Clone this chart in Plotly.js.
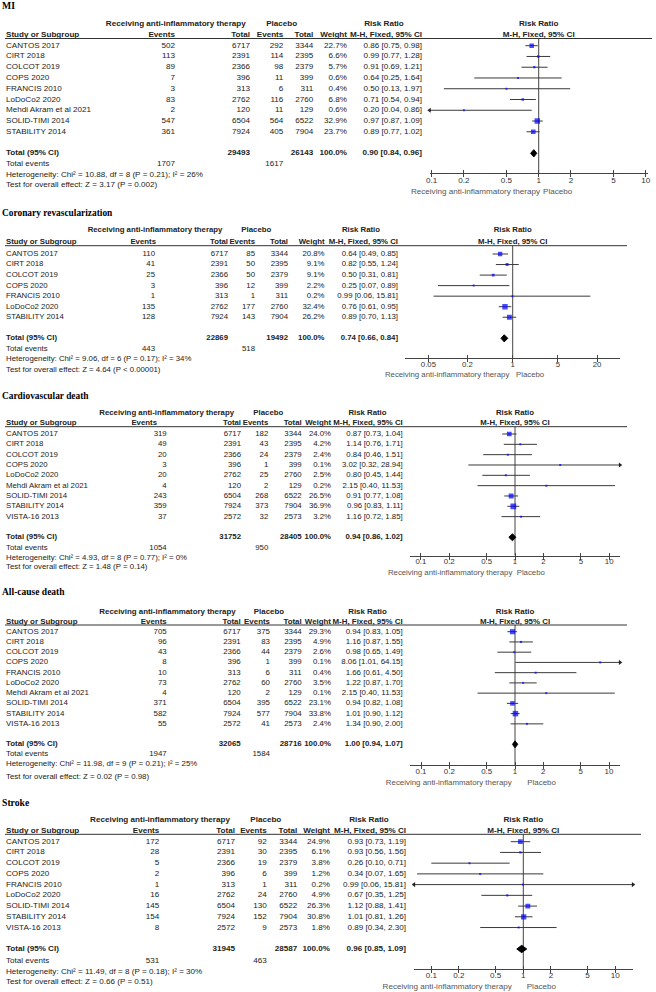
<!DOCTYPE html>
<html><head><meta charset="utf-8">
<script src="https://cdn.plot.ly/plotly-3.0.1.min.js"></script>
<style>html,body{margin:0;padding:0;background:#fff}</style>
</head><body><div id="chart" style="width:656px;height:992px"></div>
<script>
// ================= DATA =================
const panelTitles = ["MI", "Coronary revascularization", "Cardiovascular death", "All-cause death", "Stroke"];

// MI
const miStudies = ["CANTOS 2017","CIRT 2018","COLCOT 2019","COPS 2020","FRANCIS 2010","LoDoCo2 2020","Mehdi Akram et al 2021","SOLID-TIMI 2014","STABILITY 2014"];
const miEventsTx = [502,113,89,7,3,83,2,547,361];
const miTotalTx  = [6717,2391,2366,396,313,2762,120,6504,7924];
const miEventsPl = [292,114,98,11,6,116,11,564,405];
const miTotalPl  = [3344,2395,2379,399,311,2760,129,6522,7904];
const miWeight   = [22.7,6.6,5.7,0.6,0.4,6.8,0.6,32.9,23.7];
const miRR       = [0.86,0.99,0.91,0.64,0.50,0.71,0.20,0.97,0.89];
const miLower    = [0.75,0.77,0.69,0.25,0.13,0.54,0.04,0.87,0.77];
const miUpper    = [0.98,1.28,1.21,1.64,1.97,0.94,0.86,1.09,1.02];
const miTotals   = [29493, 26143];
const miTotalEvents = [1707, 1617];
const miPooled   = [0.90, 0.84, 0.96];
const miHet      = [10.88, 8, "0.21", 26];
const miTest     = [3.17, "= 0.002"];
const miTicks    = [0.1, 0.2, 0.5, 1, 2, 5, 10];

// Coronary revascularization
const crStudies = ["CANTOS 2017","CIRT 2018","COLCOT 2019","COPS 2020","FRANCIS 2010","LoDoCo2 2020","STABILITY 2014"];
const crEventsTx = [110,41,25,3,1,135,128];
const crTotalTx  = [6717,2391,2366,396,313,2762,7924];
const crEventsPl = [85,50,50,12,1,177,143];
const crTotalPl  = [3344,2395,2379,399,311,2760,7904];
const crWeight   = [20.8,9.1,9.1,2.2,0.2,32.4,26.2];
const crRR       = [0.64,0.82,0.50,0.25,0.99,0.76,0.89];
const crLower    = [0.49,0.55,0.31,0.07,0.06,0.61,0.70];
const crUpper    = [0.85,1.24,0.81,0.89,15.81,0.95,1.13];
const crTotals   = [22869, 19492];
const crTotalEvents = [443, 518];
const crPooled   = [0.74, 0.66, 0.84];
const crHet      = [9.06, 6, "0.17", 34];
const crTest     = [4.64, "< 0.00001"];
const crTicks    = [0.05, 0.2, 1, 5, 20];

// Cardiovascular death
const cvStudies = ["CANTOS 2017","CIRT 2018","COLCOT 2019","COPS 2020","LoDoCo2 2020","Mehdi Akram et al 2021","SOLID-TIMI 2014","STABILITY 2014","VISTA-16 2013"];
const cvEventsTx = [319,49,20,3,20,4,243,359,37];
const cvTotalTx  = [6717,2391,2366,396,2762,120,6504,7924,2572];
const cvEventsPl = [182,43,24,1,25,2,268,373,32];
const cvTotalPl  = [3344,2395,2379,399,2760,129,6522,7904,2573];
const cvWeight   = [24.0,4.2,2.4,0.1,2.5,0.2,26.5,36.9,3.2];
const cvRR       = [0.87,1.14,0.84,3.02,0.80,2.15,0.91,0.96,1.16];
const cvLower    = [0.73,0.76,0.46,0.32,0.45,0.40,0.77,0.83,0.72];
const cvUpper    = [1.04,1.71,1.51,28.94,1.44,11.53,1.08,1.11,1.85];
const cvTotals   = [31752, 28405];
const cvTotalEvents = [1054, 950];
const cvPooled   = [0.94, 0.86, 1.02];
const cvHet      = [4.93, 8, "0.77", 0];
const cvTest     = [1.48, "= 0.14"];
const cvTicks    = [0.1, 0.2, 0.5, 1, 2, 5, 10];

// All-cause death
const acStudies = ["CANTOS 2017","CIRT 2018","COLCOT 2019","COPS 2020","FRANCIS 2010","LoDoCo2 2020","Mehdi Akram et al 2021","SOLID-TIMI 2014","STABILITY 2014","VISTA-16 2013"];
const acEventsTx = [705,96,43,8,10,73,4,371,582,55];
const acTotalTx  = [6717,2391,2366,396,313,2762,120,6504,7924,2572];
const acEventsPl = [375,83,44,1,6,60,2,395,577,41];
const acTotalPl  = [3344,2395,2379,399,311,2760,129,6522,7904,2573];
const acWeight   = [29.3,4.9,2.6,0.1,0.4,3.5,0.1,23.1,33.8,2.4];
const acRR       = [0.94,1.16,0.98,8.06,1.66,1.22,2.15,0.94,1.01,1.34];
const acLower    = [0.83,0.87,0.65,1.01,0.61,0.87,0.40,0.82,0.90,0.90];
const acUpper    = [1.05,1.55,1.49,64.15,4.50,1.70,11.53,1.08,1.12,2.00];
const acTotals   = [32065, 28716];
const acTotalEvents = [1947, 1584];
const acPooled   = [1.00, 0.94, 1.07];
const acHet      = [11.98, 9, "0.21", 25];
const acTest     = [0.02, "= 0.98"];
const acTicks    = [0.1, 0.2, 0.5, 1, 2, 5, 10];

// Stroke
const stStudies = ["CANTOS 2017","CIRT 2018","COLCOT 2019","COPS 2020","FRANCIS 2010","LoDoCo2 2020","SOLID-TIMI 2014","STABILITY 2014","VISTA-16 2013"];
const stEventsTx = [172,28,5,2,1,16,145,154,8];
const stTotalTx  = [6717,2391,2366,396,313,2762,6504,7924,2572];
const stEventsPl = [92,30,19,6,1,24,130,152,9];
const stTotalPl  = [3344,2395,2379,399,311,2760,6522,7904,2573];
const stWeight   = [24.9,6.1,3.8,1.2,0.2,4.9,26.3,30.8,1.8];
const stRR       = [0.93,0.93,0.26,0.34,0.99,0.67,1.12,1.01,0.89];
const stLower    = [0.73,0.56,0.10,0.07,0.06,0.35,0.88,0.81,0.34];
const stUpper    = [1.19,1.56,0.71,1.65,15.81,1.25,1.41,1.26,2.30];
const stTotals   = [31945, 28587];
const stTotalEvents = [531, 463];
const stPooled   = [0.96, 0.85, 1.09];
const stHet      = [11.49, 8, "0.18", 30];
const stTest     = [0.66, "= 0.51"];
const stTicks    = [0.1, 0.2, 0.5, 1, 2, 5, 10];

// ================= ASSEMBLY =================
const panels = [
  {studies: miStudies, evT: miEventsTx, totT: miTotalTx, evC: miEventsPl, totC: miTotalPl, w: miWeight, rr: miRR, lo: miLower, hi: miUpper, totals: miTotals, events: miTotalEvents, pooled: miPooled, het: miHet, test: miTest, ticks: miTicks},
  {studies: crStudies, evT: crEventsTx, totT: crTotalTx, evC: crEventsPl, totC: crTotalPl, w: crWeight, rr: crRR, lo: crLower, hi: crUpper, totals: crTotals, events: crTotalEvents, pooled: crPooled, het: crHet, test: crTest, ticks: crTicks},
  {studies: cvStudies, evT: cvEventsTx, totT: cvTotalTx, evC: cvEventsPl, totC: cvTotalPl, w: cvWeight, rr: cvRR, lo: cvLower, hi: cvUpper, totals: cvTotals, events: cvTotalEvents, pooled: cvPooled, het: cvHet, test: cvTest, ticks: cvTicks},
  {studies: acStudies, evT: acEventsTx, totT: acTotalTx, evC: acEventsPl, totC: acTotalPl, w: acWeight, rr: acRR, lo: acLower, hi: acUpper, totals: acTotals, events: acTotalEvents, pooled: acPooled, het: acHet, test: acTest, ticks: acTicks},
  {studies: stStudies, evT: stEventsTx, totT: stTotalTx, evC: stEventsPl, totC: stTotalPl, w: stWeight, rr: stRR, lo: stLower, hi: stUpper, totals: stTotals, events: stTotalEvents, pooled: stPooled, het: stHet, test: stTest, ticks: stTicks}
];

// page geometry (pixels)
const geom = [
 {fs:8.1, titleY:6.5, h1Y:24, h2Y:34.5, lineY:38.5, lineX2:652, row0:45.7, rowH:10.76, evY:164.3, hetY:174.7, testY:185, axisY:173.3, labY:191.7, tso:-4,
  onePx:538.7, decPx:107, axL:429.6, axR:647.8, labLx:540, labRx:543,
  cEvT:175, cEvTh:175, cTotT:250, cEvC:283.3, cTotC:313.3, cW:347, cCI:422, g1:175.8, g2:281.7, rrC:384},
 {fs:7.8, titleY:213.3, h1Y:230, h2Y:241.7, lineY:245.7, lineX2:627, row0:254, rowH:10.54, evY:349.3, hetY:359.3, testY:370, axisY:358.3, labY:375, tso:-5,
  onePx:512.7, decPx:64.8, axL:405, axR:620, labLx:509.3, labRx:516,
  cEvT:155, cEvTh:156, cTotT:228, cEvC:255, cTotC:288, cW:324.5, cCI:398, g1:155, g2:256.3, rrC:361},
 {fs:7.8, titleY:396.7, h1Y:412.7, h2Y:423.3, lineY:426.7, lineX2:627, row0:434, rowH:10.33, evY:547.7, hetY:557.7, testY:567.5, axisY:555.7, labY:573.3, tso:-5,
  onePx:515, decPx:94.2, axL:410, axR:620, labLx:512.3, labRx:516.7,
  cEvT:166.7, cEvTh:157, cTotT:241, cEvC:268.3, cTotC:301.7, cW:331, cCI:402.7, g1:166.7, g2:268.3, rrC:367.5},
 {fs:7.9, titleY:592.3, h1Y:611.7, h2Y:621.7, lineY:625, lineX2:627, row0:631.7, rowH:10.24, evY:754.3, hetY:764.3, testY:776.7, axisY:765, labY:783.3, tso:-4,
  onePx:515, decPx:94, axL:410, axR:620, labLx:511.7, labRx:527.3,
  cEvT:166.7, cEvTh:166.7, cTotT:240.7, cEvC:270, cTotC:301.7, cW:331, cCI:402.7, g1:167.5, g2:269, rrC:367.5},
 {fs:8.1, titleY:803.3, h1Y:820, h2Y:830.7, lineY:834.3, lineX2:641, row0:841.7, rowH:10.73, evY:961, hetY:971.7, testY:982.3, axisY:969, labY:987.3, tso:-5,
  onePx:523.3, decPx:92, axL:414, axR:633, labLx:511.7, labRx:526.7,
  cEvT:159.3, cEvTh:159.3, cTotT:235, cEvC:266.7, cTotC:297.3, cW:330, cCI:406, g1:160, g2:265.8, rrC:369}
];

const W = 656, H = 992;
const SANS = "Liberation Sans, Arial, sans-serif";
const SERIF = "Liberation Serif, Times New Roman, serif";
const TXT = "#222";
const traces = [];
const shapes = [];
const layout = {
  width: W, height: H, margin: {l:0, r:0, t:0, b:0},
  paper_bgcolor: "#fff", plot_bgcolor: "rgba(0,0,0,0)", showlegend: false,
  xaxis11: {domain:[0,1], range:[0,W], visible:false, fixedrange:true, anchor:"y11"},
  yaxis11: {domain:[0,1], range:[H,0], visible:false, fixedrange:true, anchor:"x11"},
  shapes: shapes
};

function tt(xs, ys, texts, pos, size, opts) {
  opts = opts || {};
  traces.push({
    type: "scatter", mode: "text", x: xs, y: ys,
    text: texts.map(t => opts.bold ? "<b>" + t + "</b>" : String(t)),
    textposition: pos,
    textfont: {family: opts.family || SANS, size: size, color: opts.color || TXT},
    xaxis: "x11", yaxis: "y11", hoverinfo: "skip", cliponaxis: false, showlegend: false
  });
}
const rep = (v, n) => Array(n).fill(v);
const ci = (r, l, h) => r.toFixed(2) + " [" + l.toFixed(2) + ", " + h.toFixed(2) + "]";

panels.forEach((d, i) => {
  const g = geom[i];
  const n = d.studies.length;
  const fs = g.fs;
  const rowsY = d.studies.map((_, k) => g.row0 + k * g.rowH);
  const totY = g.row0 + (n + 1) * g.rowH;

  // title
  tt([2], [g.titleY], [panelTitles[i]], "middle right", fs + 1.6, {bold:true, family:SERIF, color:"#000"});
  // header row 1
  tt([g.g1, g.g2, g.rrC, g.onePx], rep(g.h1Y, 4),
     ["Receiving anti-inflammatory therapy", "Placebo", "Risk Ratio", "Risk Ratio"], "middle center", fs, {bold:true});
  // header row 2
  tt([6], [g.h2Y], ["Study or Subgroup"], "middle right", fs, {bold:true});
  tt([g.cEvTh, g.cTotT, g.cEvC, g.cTotC, g.cW, g.cCI], rep(g.h2Y, 6),
     ["Events", "Total", "Events", "Total", "Weight", "M-H, Fixed, 95% CI"], "middle left", fs, {bold:true});
  tt([g.onePx], [g.h2Y], ["M-H, Fixed, 95% CI"], "middle center", fs, {bold:true});
  shapes.push({type:"line", xref:"x11", yref:"y11", x0:5, x1:g.lineX2, y0:g.lineY, y1:g.lineY, line:{color:"#333", width:1}});

  // study rows
  tt(rep(6, n), rowsY, d.studies, "middle right", fs);
  tt(rep(g.cEvT, n), rowsY, d.evT, "middle left", fs);
  tt(rep(g.cTotT, n), rowsY, d.totT, "middle left", fs);
  tt(rep(g.cEvC, n), rowsY, d.evC, "middle left", fs);
  tt(rep(g.cTotC, n), rowsY, d.totC, "middle left", fs);
  tt(rep(g.cW, n), rowsY, d.w.map(v => v.toFixed(1) + "%"), "middle left", fs);
  tt(rep(g.cCI, n), rowsY, d.rr.map((r, k) => ci(r, d.lo[k], d.hi[k])), "middle left", fs);

  // total row
  tt([6], [totY], ["Total (95% CI)"], "middle right", fs, {bold:true});
  const wSum = d.w.reduce((a, b) => a + b, 0);
  tt([g.cTotT, g.cTotC, g.cW, g.cCI], rep(totY, 4),
     [d.totals[0], d.totals[1], (Math.round(wSum / 10) * 10).toFixed(1) + "%", ci(d.pooled[0], d.pooled[1], d.pooled[2])],
     "middle left", fs, {bold:true});
  tt([6], [g.evY], ["Total events"], "middle right", fs);
  tt([g.cEvT, g.cEvC], [g.evY, g.evY], [d.events[0], d.events[1]], "middle left", fs);
  const h = d.het;
  tt([6], [g.hetY], ["Heterogeneity: Chi² = " + h[0].toFixed(2) + ", df = " + h[1] + " (P = " + h[2] + "); I² = " + h[3] + "%"], "middle right", fs);
  tt([6], [g.testY], ["Test for overall effect: Z = " + d.test[0].toFixed(2) + " (P " + d.test[1] + ")"], "middle right", fs);

  // bottom favour labels
  tt([g.labLx], [g.labY], ["Receiving anti-inflammatory therapy"], "middle left", fs, {color:"#555"});
  tt([g.labRx], [g.labY], ["Placebo"], "middle right", fs, {color:"#555"});

  // ---- forest subplot ----
  const s = i === 0 ? "" : String(i + 1);
  const xa = "x" + s, ya = "y" + s;
  const xr = [(g.axL - g.onePx) / g.decPx, (g.axR - g.onePx) / g.decPx];
  const yTop = (g.lineY - g.row0) / g.rowH;
  const yBot = (g.axisY - g.row0) / g.rowH;
  const idx = d.studies.map((_, k) => k);
  const totIdx = n + 1;

  layout["xaxis" + s] = {
    domain: [g.axL / W, g.axR / W], anchor: ya, type: "log", range: xr,
    tickvals: d.ticks, ticktext: d.ticks.map(String), ticks: "outside", ticklen: 3, tickwidth: 1, tickcolor: "#444",
    ticklabelstandoff: g.tso,
    showline: true, linecolor: "#444", linewidth: 1, showgrid: false, zeroline: false,
    tickfont: {family: SANS, size: fs, color: "#333"}, fixedrange: true
  };
  layout["yaxis" + s] = {
    domain: [1 - g.axisY / H, 1 - g.lineY / H], anchor: xa, range: [yBot, yTop],
    visible: false, showgrid: false, zeroline: false, fixedrange: true
  };
  // inner half of tick marks
  const ov = "xaxis" + (6 + i);
  layout[ov] = {
    overlaying: xa, anchor: ya, type: "log", range: xr, tickvals: d.ticks, ticks: "inside", ticklen: 3,
    tickcolor: "#444", showticklabels: false, showline: false, showgrid: false, zeroline: false, fixedrange: true
  };
  traces.push({type:"scatter", mode:"markers", x:[1], y:[totIdx], marker:{opacity:0}, xaxis:"x" + (6 + i), yaxis:ya, hoverinfo:"skip", showlegend:false});

  // line of no effect
  traces.push({type:"scatter", mode:"lines", x:[1, 1], y:[yTop, yBot], line:{color:"#444", width:1},
               xaxis:xa, yaxis:ya, hoverinfo:"skip", showlegend:false, cliponaxis:false});
  // CI lines
  const cx = [], cy = [];
  idx.forEach(k => { cx.push(d.lo[k], d.hi[k], null); cy.push(k, k, null); });
  traces.push({type:"scatter", mode:"lines", x:cx, y:cy, line:{color:"#3a3a3a", width:1},
               xaxis:xa, yaxis:ya, hoverinfo:"skip", showlegend:false});
  // arrows for CIs beyond axis range
  const minV = Math.pow(10, xr[0]), maxV = Math.pow(10, xr[1]);
  const ax = [], ay = [], as = [];
  idx.forEach(k => {
    if (d.lo[k] < minV) { ax.push(minV); ay.push(k); as.push("triangle-left"); }
    if (d.hi[k] > maxV) { ax.push(maxV); ay.push(k); as.push("triangle-right"); }
  });
  if (ax.length) traces.push({type:"scatter", mode:"markers", x:ax, y:ay,
      marker:{symbol:as, size:4.5, color:"#222", line:{width:0}},
      xaxis:xa, yaxis:ya, hoverinfo:"skip", showlegend:false, cliponaxis:false});
  // study squares
  traces.push({type:"scatter", mode:"markers", x:d.rr, y:idx,
    marker:{symbol:"square", color:"#0000ff", size:d.w.map(v => Math.max(2, Math.sqrt(v) * 0.95)), line:{width:0}},
    xaxis:xa, yaxis:ya, hoverinfo:"skip", showlegend:false});
  // pooled diamond
  const p = d.pooled, dh = 0.34;
  traces.push({type:"scatter", mode:"lines", x:[p[1], p[0], p[2], p[0], p[1]], y:[totIdx, totIdx - dh, totIdx, totIdx + dh, totIdx],
    fill:"toself", fillcolor:"#000", line:{color:"#000", width:1}, xaxis:xa, yaxis:ya, hoverinfo:"skip", showlegend:false});
});

Plotly.newPlot("chart", traces, layout, {staticPlot:true, displayModeBar:false});
</script></body></html>
